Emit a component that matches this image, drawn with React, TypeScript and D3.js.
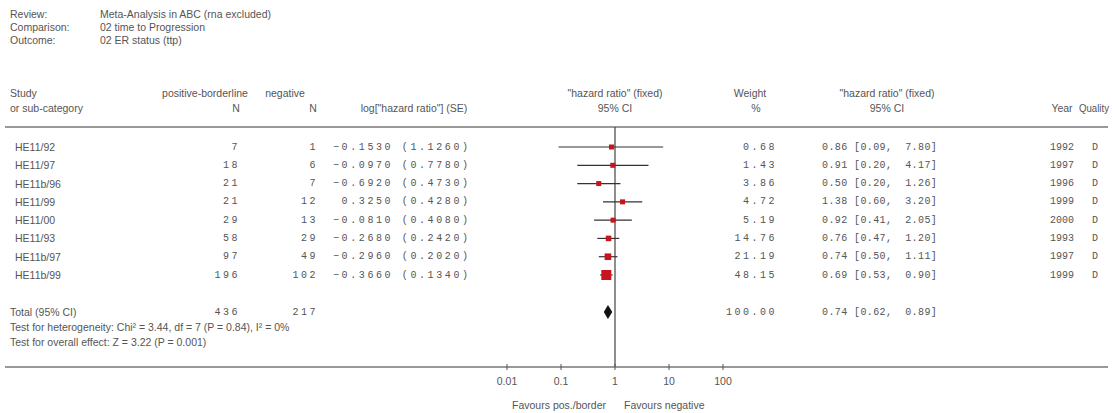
import * as d3 from "d3";
import React from "react";

// header block
const headerLabels = ["Review:", "Comparison:", "Outcome:"];
const headerValues = ["Meta-Analysis in ABC (rna excluded)", "02 time to Progression", "02 ER status (ttp)"];

// studies
const studies = ["HE11/92", "HE11/97", "HE11b/96", "HE11/99", "HE11/00", "HE11/93", "HE11b/97", "HE11b/99"];
const nPos = [7, 18, 21, 21, 29, 58, 97, 196];
const nNeg = [1, 6, 7, 12, 13, 29, 49, 102];
const logHR = [-0.153, -0.097, -0.692, 0.325, -0.081, -0.268, -0.296, -0.366];
const se = [1.126, 0.778, 0.473, 0.428, 0.408, 0.242, 0.202, 0.134];
const weights = [0.68, 1.43, 3.86, 4.72, 5.19, 14.76, 21.19, 48.15];
const hr = [0.86, 0.91, 0.5, 1.38, 0.92, 0.76, 0.74, 0.69];
const ciLow = [0.09, 0.2, 0.2, 0.6, 0.41, 0.47, 0.5, 0.53];
const ciHigh = [7.8, 4.17, 1.26, 3.2, 2.05, 1.2, 1.11, 0.9];
const years = [1992, 1997, 1996, 1999, 2000, 1993, 1997, 1999];
const quality = ["D", "D", "D", "D", "D", "D", "D", "D"];

// pooled
const totalPos = 436;
const totalNeg = 217;
const totalWeight = 100;
const totalHR = 0.74;
const totalLow = 0.62;
const totalHigh = 0.89;
const hetText = "Test for heterogeneity: Chi\u00b2 = 3.44, df = 7 (P = 0.84), I\u00b2 = 0%";
const overallText = "Test for overall effect: Z = 3.22 (P = 0.001)";

const ticks = [0.01, 0.1, 1, 10, 100];
const favourLeft = "Favours pos./border";
const favourRight = "Favours negative";

const W = 1112;
const H = 413;
const sans = "'Liberation Sans', Arial, sans-serif";
const mono = "'Liberation Mono', 'Courier New', monospace";
const txt = "#555";

const fmt2 = d3.format(".2f");
const fmt4 = d3.format(".4f");

export default function App() {
  const x = d3.scaleLog().domain([0.01, 100]).range([507, 723]);
  const y = d3.scaleLinear().domain([0, studies.length - 1]).range([147, 275]);
  const box = d3.scaleSqrt().domain([0, d3.max(weights) as number]).range([0, 10]);

  const yTotal = 312;
  const yAxis = 367;
  const lineTop = 127;

  const lbl = { fontFamily: sans, fontSize: 10.5, fill: txt };
  const num = { fontFamily: mono, fontSize: 10, fill: txt };

  const logStr = (v: number, s: number) =>
    (v < 0 ? "\u2212" : "\u00a0") + fmt4(Math.abs(v)) + " (" + fmt4(s) + ")";
  const ciStr = (m: number, l: number, h: number) =>
    fmt2(m) + " [" + fmt2(l) + ", " + (h < 10 ? "\u00a0" : "") + fmt2(h) + "]";

  const diamond = [
    [x(totalLow), yTotal],
    [x(totalHR), yTotal - 7],
    [x(totalHigh), yTotal],
    [x(totalHR), yTotal + 7],
  ];

  return (
    <svg width={W} height={H} style={{ position: "absolute", left: 0, top: 0, background: "#fff" }}>
      {/* header block */}
      {headerLabels.map((h, i) => (
        <g key={h} dominantBaseline="central">
          <text x={10} y={14 + i * 13} {...lbl}>{h}</text>
          <text x={100} y={14 + i * 13} {...lbl}>{headerValues[i]}</text>
        </g>
      ))}

      {/* column headers */}
      <g dominantBaseline="central" {...lbl}>
        <text x={10} y={93}>Study</text>
        <text x={10} y={108}>or sub-category</text>
        <text x={205} y={93} textAnchor="middle">positive-borderline</text>
        <text x={236} y={108} textAnchor="middle">N</text>
        <text x={285} y={93} textAnchor="middle">negative</text>
        <text x={313} y={108} textAnchor="middle">N</text>
        <text x={414} y={108} textAnchor="middle">log["hazard ratio"] (SE)</text>
        <text x={615} y={93} textAnchor="middle">"hazard ratio" (fixed)</text>
        <text x={615} y={108} textAnchor="middle">95% CI</text>
        <text x={750} y={93} textAnchor="middle">Weight</text>
        <text x={756} y={108} textAnchor="middle">%</text>
        <text x={887} y={93} textAnchor="middle">"hazard ratio" (fixed)</text>
        <text x={887} y={108} textAnchor="middle">95% CI</text>
        <text x={1062} y={108} textAnchor="middle">Year</text>
        <text x={1109} y={108} textAnchor="end" textLength={30} lengthAdjust="spacingAndGlyphs">Quality</text>
      </g>

      <line x1={5} x2={1108} y1={lineTop} y2={lineTop} stroke="#777" strokeWidth={1.5} />

      {/* study rows */}
      {studies.map((s, i) => (
        <g key={s} dominantBaseline="central">
          <text x={15} y={y(i)} {...lbl}>{s}</text>
          <text x={240} y={y(i)} textAnchor="end" {...num} letterSpacing={2.5}>{nPos[i]}</text>
          <text x={318} y={y(i)} textAnchor="end" {...num} letterSpacing={2.5}>{nNeg[i]}</text>
          <text x={333} y={y(i)} {...num} letterSpacing={2.6} style={{ whiteSpace: "pre" }}>{logStr(logHR[i], se[i])}</text>
          <text x={777} y={y(i)} textAnchor="end" {...num} letterSpacing={2.5}>{fmt2(weights[i])}</text>
          <text x={822} y={y(i)} {...num} letterSpacing={0.4} style={{ whiteSpace: "pre" }}>{ciStr(hr[i], ciLow[i], ciHigh[i])}</text>
          <text x={1062} y={y(i)} textAnchor="middle" {...num}>{years[i]}</text>
          <text x={1095} y={y(i)} textAnchor="middle" {...num}>{quality[i]}</text>
        </g>
      ))}

      {/* total rows */}
      <g dominantBaseline="central">
        <text x={10} y={yTotal} {...lbl}>Total (95% CI)</text>
        <text x={240} y={yTotal} textAnchor="end" {...num} letterSpacing={2.5}>{totalPos}</text>
        <text x={318} y={yTotal} textAnchor="end" {...num} letterSpacing={2.5}>{totalNeg}</text>
        <text x={777} y={yTotal} textAnchor="end" {...num} letterSpacing={2.5}>{fmt2(totalWeight)}</text>
        <text x={822} y={yTotal} {...num} letterSpacing={0.4} style={{ whiteSpace: "pre" }}>{ciStr(totalHR, totalLow, totalHigh)}</text>
        <text x={10} y={yTotal + 15} {...lbl}>{hetText}</text>
        <text x={10} y={yTotal + 30} {...lbl}>{overallText}</text>
      </g>

      {/* forest plot */}
      <line x1={x(1)} x2={x(1)} y1={lineTop} y2={yAxis} stroke="#444" strokeWidth={1.2} />
      {studies.map((s, i) => {
        const b = Math.max(5, box(weights[i]));
        return (
          <g key={"m" + s}>
            <line x1={x(ciLow[i])} x2={x(ciHigh[i])} y1={y(i)} y2={y(i)} stroke="#333" strokeWidth={1.2} />
            <rect x={x(hr[i]) - b / 2} y={y(i) - b / 2} width={b} height={b} fill="#c8141e" />
          </g>
        );
      })}
      <polygon points={diamond.map((p) => p.join(",")).join(" ")} fill="#111" />

      {/* axis */}
      <line x1={5} x2={1108} y1={yAxis} y2={yAxis} stroke="#777" strokeWidth={1.5} />
      {ticks.map((t) => (
        <g key={t}>
          <line x1={x(t)} x2={x(t)} y1={yAxis - 3} y2={yAxis + 3} stroke="#555" />
          <text x={x(t)} y={yAxis + 14} textAnchor="middle" dominantBaseline="central" {...lbl}>{t}</text>
        </g>
      ))}
      <text x={x(1) - 9} y={yAxis + 38} textAnchor="end" dominantBaseline="central" {...lbl}>{favourLeft}</text>
      <text x={x(1) + 9} y={yAxis + 38} dominantBaseline="central" {...lbl}>{favourRight}</text>
    </svg>
  );
}
